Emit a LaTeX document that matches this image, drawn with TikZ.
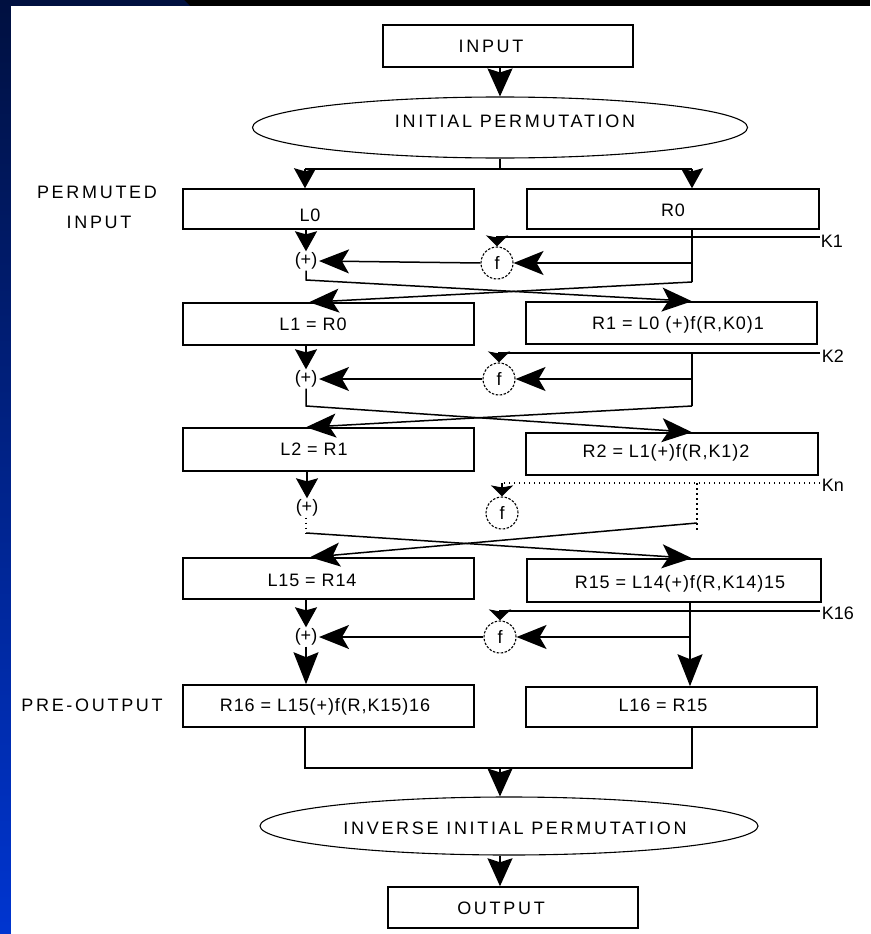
\documentclass[tikz,border=0pt]{standalone}
\usepackage{fontspec}
\setmainfont{Liberation Sans}
\newfontfamily\capsfont[LetterSpace=15]{Liberation Sans}
\newfontfamily\eqfont[LetterSpace=5]{Liberation Sans}
\usetikzlibrary{arrows.meta,shapes.geometric}
\definecolor{navy}{HTML}{001040}
\definecolor{slideblue}{HTML}{0035D0}
\begin{document}
\begin{tikzpicture}[x=1pt,y=-1pt,line width=1.5pt,
  box/.style={draw,rectangle,inner sep=0pt,line width=1.5pt},
  oval/.style={draw,ellipse,inner sep=0pt,line width=1.1pt},
  txt/.style={inner sep=0pt,text height=12.9pt,text depth=0pt,font={\eqfont\fontsize{18pt}{20pt}\selectfont}},
  captxt/.style={inner sep=0pt,text height=12.9pt,text depth=0pt,font={\capsfont\fontsize{18pt}{20pt}\selectfont}},
  xor/.style={inner sep=1pt,text height=12.9pt,text depth=3pt,font={\fontsize{18pt}{20pt}\selectfont}},
  fnode/.style={draw,circle,dash pattern=on 2.5pt off 1.5pt,line width=1.1pt,minimum size=32pt,inner sep=0pt,font={\fontsize{18pt}{20pt}\selectfont}},
  klab/.style={anchor=west,inner sep=0pt,text height=12.9pt,text depth=0pt,font={\fontsize{18pt}{20pt}\selectfont}},
  dots/.style={dash pattern=on 1.5pt off 3.5pt},
  huge/.style={-{Stealth[length=28pt,width=25pt,inset=4pt]}},
  vbig/.style={-{Stealth[length=20pt,width=22pt,inset=3pt]}},
  hbig/.style={-{Stealth[length=30pt,width=24pt,inset=7pt]}},
  tall/.style={-{Stealth[length=32pt,width=25pt,inset=5pt]}},
  small/.style={-{Stealth[length=11pt,width=22pt,inset=2pt]}}]
\useasboundingbox (0,0) rectangle (870,934);
% slide background
\fill[black] (0,0) rectangle (870,6);
\fill[navy] (0,0) -- (184,0) -- (190,6) -- (0,6) -- cycle;
\shade[top color=navy,bottom color=slideblue] (0,0) rectangle (11,934);
\fill[white] (11,6) rectangle (870,934);

% boxes
\node[box,minimum width=250pt,minimum height=42pt] (input) at (508,46) {};
\node[captxt] (inputt) at (491,46) {INPUT};
\node[oval,minimum width=495pt,minimum height=61pt] (e1) at (500,127.5) {};
\node[captxt] (e1t) at (515,121) {INITIAL PERMUTATION};

\node[captxt] (perm1) at (97,192) {PERMUTED};
\node[captxt] (perm2) at (99,222) {INPUT};

\node[box,minimum width=291pt,minimum height=40pt] (l0) at (328.5,209) {};
\node[txt] (l0t) at (310,215) {L0};
\node[box,minimum width=292pt,minimum height=40pt] (r0) at (673,209) {};
\node[txt] (r0t) at (673,210) {R0};

\node[box,minimum width=291pt,minimum height=42pt] (l1) at (328.5,324) {};
\node[txt] (l1t) at (313,324) {L1 = R0};
\node[box,minimum width=291pt,minimum height=42pt] (r1) at (671.5,323) {};
\node[txt] (r1t) at (678,323) {R1 = L0 (+)f(R,K0)1};

\node[box,minimum width=291pt,minimum height=43pt] (l2) at (328.5,449.5) {};
\node[txt] (l2t) at (314,449) {L2 = R1};
\node[box,minimum width=292pt,minimum height=42pt] (r2) at (672,454) {};
\node[txt] (r2t) at (666,451) {R2 = L1(+)f(R,K1)2};

\node[box,minimum width=291pt,minimum height=41pt] (l15) at (328.5,578.5) {};
\node[txt] (l15t) at (312,580) {L15 = R14};
\node[box,minimum width=294pt,minimum height=43pt] (r15) at (674,580.5) {};
\node[txt] (r15t) at (680,582) {R15 = L14(+)f(R,K14)15};

\node[captxt] (preout) at (92,705) {PRE-OUTPUT};
\node[box,minimum width=291pt,minimum height=42pt] (r16) at (328.5,706) {};
\node[txt] (r16t) at (325,705) {R16 = L15(+)f(R,K15)16};
\node[box,minimum width=291pt,minimum height=40pt] (l16) at (671.5,707) {};
\node[txt] (l16t) at (663,705) {L16 = R15};

\node[oval,minimum width=498pt,minimum height=58pt] (e2) at (509,826) {};
\node[captxt] (e2t) at (515,828) {INVERSE INITIAL PERMUTATION};
\node[box,minimum width=250pt,minimum height=41pt] (output) at (513,907.5) {};
\node[captxt] (outputt) at (501,908) {OUTPUT};

% column helpers
\coordinate (lx1) at (309,0);
\coordinate (lx2) at (306,0);
\coordinate (lx3) at (310,0);

% top connectors
\coordinate (split) at (500,169);
\coordinate (hl) at (305,169);
\coordinate (hr) at (692,169);
\draw[huge] (input.south -| e1.north) -- (e1.north);
\draw (e1.south) -- (split);
\draw (hl) -- (hr);
\draw[vbig] (hl) -- (l0.north -| hl);
\draw[vbig] (hr) -- (r0.north -| hr);

% round 1
\node[xor] (x1) at (306,261) {(+)};
\node[fnode] (f1) at (497,263) {f};
\coordinate (k1) at (820,237);
\node[klab] (k1t) at (820,241) {K1};
\coordinate (b1) at (692,282);
\coordinate (c1) at (306,280);
\draw[vbig] (l0.south -| x1) -- (x1.north);
\draw[small] (k1) -- (k1 -| f1) -- (f1.north);
\draw (r0.south -| b1) -- (b1);
\draw[hbig] (f1 -| b1) -- (f1.east);
\draw[hbig] (f1.west) -- (x1.east);
\draw[hbig] (x1.south) -- (c1) -- (r1.north -| b1);
\draw[hbig] (b1) -- (l1.north -| lx1);

% round 2
\node[xor] (x2) at (306,379) {(+)};
\node[fnode] (f2) at (499,379) {f};
\coordinate (k2) at (820,353);
\node[klab] (k2t) at (821,356) {K2};
\coordinate (b2) at (692,406);
\coordinate (c2) at (306,406);
\draw[vbig] (l1.south -| x2) -- (x2.north);
\draw[small] (k2) -- (k2 -| f2) -- (f2.north);
\draw (k2 -| b2) -- (b2);
\draw[hbig] (f2 -| b2) -- (f2.east);
\draw[hbig] (f2.west) -- (x2.east);
\draw[hbig] (x2.south) -- (c2) -- (r2.north -| b2);
\draw[hbig] (b2) -- (l2.north -| lx2);

% round 3 (dotted)
\node[xor] (x3) at (307,508) {(+)};
\node[fnode] (f3) at (502,513) {f};
\coordinate (kn) at (820,483);
\node[klab] (knt) at (821,485) {Kn};
\coordinate (b3) at (697,532);
\coordinate (t3) at (697,523);
\coordinate (c3) at (306,533);
\draw[vbig] (l2.south -| x3) -- (x3.north);
\draw[dots] (kn) -- (kn -| f3);
\draw[small] (kn -| f3) -- (f3.north);
\draw[dots] (kn -| b3) -- (b3);
\draw[dots] (x3.south -| c3) -- (c3);
\draw[hbig] (c3) -- (r15.north -| b1);
\draw[hbig] (t3) -- (l15.north -| lx3);

% round 4
\node[xor] (x4) at (306,637) {(+)};
\node[fnode] (f4) at (500,637) {f};
\coordinate (k16) at (820,611);
\node[klab] (k16t) at (821,613) {K16};
\coordinate (b4) at (690,637);
\draw[vbig] (l15.south -| x4) -- (x4.north);
\draw[small] (k16) -- (k16 -| f4) -- (f4.north);
\draw[tall] (r15.south -| b4) -- (l16.north -| b4);
\draw[hbig] (b4) -- (f4.east);
\draw[hbig] (f4.west) -- (x4.east);
\draw[tall] (x4.south) -- (r16.north -| x4);

% output stage
\coordinate (ml) at (305,768);
\coordinate (mr) at (692,768);
\coordinate (mm) at (500,768);
\draw (r16.south -| ml) -- (ml) -- (mr) -- (l16.south -| mr);
\draw[huge] (mm) -- (e2.north -| mm);
\draw[huge] (e2.south -| mm) -- (output.north -| mm);
\end{tikzpicture}
\end{document}
